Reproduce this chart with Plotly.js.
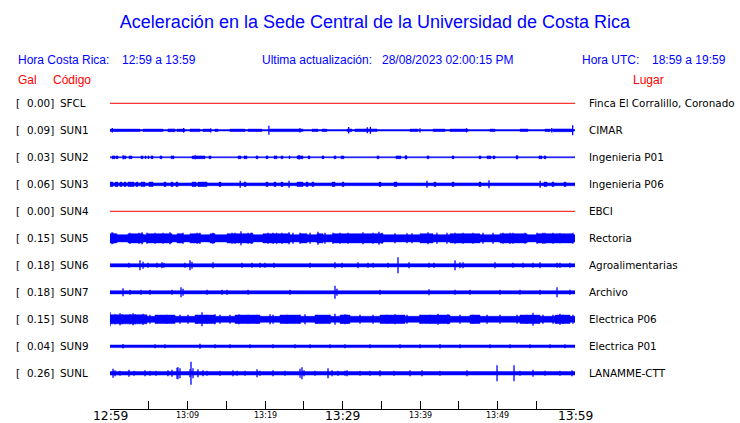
<!DOCTYPE html>
<html><head><meta charset="utf-8">
<script src="https://cdn.plot.ly/plotly-3.0.1.min.js"></script>
<style>html,body{margin:0;padding:0;background:#fff}#chart{width:740px;height:423px}</style>
</head><body><div id="chart"></div>
<script>
// ---- data ----
const codes  = ['SFCL','SUN1','SUN2','SUN3','SUN4','SUN5','SUN6','SUN7','SUN8','SUN9','SUNL'];
const galMax = ['0.00','0.09','0.03','0.06','0.00','0.15','0.18','0.18','0.15','0.04','0.26'];
const places = ['Finca El Corralillo, Coronado','CIMAR','Ingenieria P01','Ingenieria P06','EBCI','Rectoria',
                'Agroalimentarias','Archivo','Electrica P06','Electrica P01','LANAMME-CTT'];
// continuous background noise half-amplitude per station
const baseAmp = [0, 0.7, 0.5, 1.4, 0, 3.6, 1.6, 1.6, 3.0, 1.3, 1.7];
// time axis: minutes after 12:59
const tickMinutes = [0,5,10,15,20,25,30,35,40,45,50,55,60];
const tickText = ['12:59','13:04','13:09','13:14','13:19','13:24','13:29','13:34','13:39','13:44','13:49','13:54','13:59'];

// noisy stretches [start min, end min, half-amplitude]
const burstsSUN1 = [[0,3.87,1.2],[4.26,6.84,1.2],[7.48,8.39,1.4],[8.65,9.68,1.2],[10.32,11.61,1.3],[12.0,12.9,1.2],[13.55,13.94,1.2],
  [15.48,17.42,1.2],[17.81,19.61,1.2],[20.65,24.9,1.3],[26.06,26.84,1.2],[27.35,27.97,1.2],[30.58,31.23,1.3],[31.61,34.45,1.3],
  [38.71,39.74,1.2],[41.68,43.23,1.2],[43.87,46.19,1.2],[49.03,49.68,1.2],[52.9,53.94,1.2],[56.13,56.77,1.2],[57.16,59.74,1.4]];
const burstsSUN2 = [[0.26,0.65,1.4],[0.77,1.03,1.4],[1.68,2.06,1.4],[2.45,2.84,1.4],[4.0,4.26,1.4],[4.52,4.65,1.4],[4.9,5.03,1.4],
  [5.29,5.55,1.4],[6.45,6.71,1.4],[7.87,8.26,1.4],[10.58,12.26,1.4],[12.77,13.03,1.4],[16.52,16.9,1.4],[17.29,17.68,1.4],
  [18.84,19.1,1.4],[20.13,20.39,1.4],[21.16,21.55,1.4],[22.06,22.32,1.4],[23.1,23.23,1.4],[24.13,24.9,1.4],[25.55,25.81,1.4],
  [27.35,27.61,1.4],[28.9,29.16,1.4],[29.81,30.19,1.4],[34.45,34.71,1.4],[36.9,37.55,1.4],[38.06,38.32,1.4],[40.9,41.16,1.4],
  [44.13,44.39,1.4],[47.61,47.87,1.4],[48.65,49.16,1.4],[49.42,49.68,1.4],[52.39,52.65,1.4],[55.35,55.74,1.4],[56.0,56.26,1.4]];
const burstsSUN3 = [[0,0.39,2.2],[0.65,1.03,2.2],[1.29,1.55,2.2],[1.81,2.06,2.2],[2.32,3.1,2.2],[3.35,3.61,2.2],[4.0,4.52,2.2],
  [5.03,5.55,2.2],[6.97,7.23,2.2],[7.87,8.13,2.2],[8.52,8.77,2.2],[10.58,11.1,2.2],[11.35,12.52,2.2],[14.06,14.32,2.2],
  [17.29,17.55,2.2],[20.13,20.39,2.2],[21.16,21.42,2.2],[22.06,22.32,2.2],[24.13,24.9,2.2],[25.29,25.55,2.2],[26.06,26.32,2.2],
  [28.65,29.03,2.2],[29.94,30.19,2.2],[34.71,34.97,2.2],[36.65,37.03,2.2],[41.81,42.06,2.2],[44.13,44.39,2.2],[47.61,47.87,2.2],
  [56.0,56.39,2.2],[57.03,57.29,2.2],[58.58,58.84,2.2]];
const burstsSUN5 = [[0,0.9,4.6],[2.32,4.26,4.6],[4.77,8.0,4.6],[8.65,9.42,4.6],[10.32,11.61,4.6],[12.9,13.55,4.6],[15.1,18.45,4.6],
  [19.74,23.23,4.6],[24.52,25.42,4.6],[26.71,27.48,4.6],[28.77,35.23,4.6],[40.0,41.68,4.6],[43.87,47.74,4.6],[50.32,53.81,4.6],
  [55.1,59.74,4.6]];
const burstsSUN8 = [[0,4.77,4.5],[5.81,8.39,4.2],[10.97,13.55,4.2],[16.13,19.35,4.2],[21.94,24.52,4.2],[26.45,28.39,4.2],
  [29.68,30.97,4.2],[34.84,38.06,4.2],[40.0,43.87,4.2],[46.45,47.74,4.2],[52.9,55.48,4.2],[57.42,59.35,4.2]];

// isolated spikes [minute, half-amplitude]
const spikesSUN1 = [[0.3,2.3],[9.5,2.3],[13.0,2.1],[20.5,4.5],[24.5,2.1],[30.8,3.2],[33.2,3],[33.6,3.5],[40.0,2.1],[46.0,2.1],[57.0,2.3],[59.7,5]];
const spikesSUN2 = [[1.7,2],[11.0,2],[24.4,2.2],[38.2,2],[52.5,2]];
const spikesSUN3 = [[16.8,3.5],[23.1,3.5],[40.9,3.5],[48.9,4],[55.5,3.5]];
const spikesSUN5 = [[0.26,6],[0.39,5.5],[2.58,5.5],[3.74,5.5],[4.13,6],[4.77,5.5],[5.81,5.5],[6.84,5.5],[7.74,6],[9.42,5.5],
  [11.23,5.5],[11.61,5.5],[13.29,5.5],[15.74,5.5],[16.13,5.5],[16.9,7],[17.81,5.5],[18.2,5.5],[18.32,5.5],[20.39,5.5],[21.03,5.5],
  [21.5,5.5],[22.19,5.5],[23.1,6],[23.61,5.5],[24.52,5.5],[25.81,5.5],[26.84,6.5],[27.74,5.5],[28.77,5.5],[29.68,5.5],[30.71,5.5],
  [32.65,6],[33.94,5.5],[34.71,6.5],[35.1,5.5],[36.77,5],[38.32,5],[38.97,5],[41.03,6],[42.19,5.5],[43.48,5.5],[44.52,5.5],
  [45.55,5.5],[46.84,5.5],[48.13,5.5],[49.42,5.5],[50.71,5.5],[51.61,5.5],[52.0,5.5],[53.55,5.5],[55.1,5.5],[55.87,5.5],
  [56.13,5.5],[57.16,5.5],[58.06,5],[59.74,5.5]];
const spikesSUN6 = [[2.45,2.5],[3.87,5],[4.26,3.5],[4.9,2.5],[6.06,2.5],[6.71,3],[6.97,2.5],[9.68,2.5],[10.32,5],[10.58,3.5],
  [13.29,3],[17.03,2.5],[18.32,2.5],[19.35,2.5],[20.0,2.5],[21.16,2.5],[25.81,2.5],[29.03,3],[29.94,2.5],[32.0,3],[33.29,2.5],
  [33.94,2.5],[35.87,2.5],[37.16,8],[38.58,3],[41.16,2.5],[41.81,2.5],[44.52,5],[45.16,3],[45.55,3],[49.68,3],[52.0,2.5],
  [53.29,2.5],[54.58,2.5],[55.48,3],[57.68,2.5],[58.06,2.5],[59.35,2.5]];
const spikesSUN7 = [[1.68,4],[2.58,2.5],[4.0,2.5],[5.16,2.5],[8.0,2.5],[9.16,5],[9.42,3.5],[12.52,2.5],[14.45,2.5],[15.1,2.5],
  [17.81,2.5],[23.23,2.5],[29.03,6.5],[29.29,3.5],[34.84,2.5],[41.16,3],[44.52,2.5],[46.45,2.5],[50.32,2.5],[52.9,2.5],
  [55.48,2.5],[57.68,5],[59.35,2.5]];
const spikesSUN8 = [[0,7],[0.65,5],[1.29,6],[1.55,5],[2.58,5],[2.97,6],[3.23,5],[4.26,5.5],[5.16,4.5],[7.35,4.5],[9.03,4.5],
  [10.06,4.5],[11.23,4.5],[11.87,7],[12.52,4.5],[13.55,5],[14.19,4.5],[15.48,4.5],[16.65,5],[17.81,4.5],[18.97,4.5],[20.65,5],
  [21.03,4.5],[22.84,4.5],[24.52,4.5],[25.16,5],[26.71,4.5],[28.39,4.5],[29.03,5.5],[29.94,4.5],[30.32,5],[30.58,4.5],
  [32.26,4.5],[33.94,4.5],[35.74,4.5],[36.77,5],[38.32,4.5],[40.0,4.5],[41.29,4.5],[42.32,5.5],[43.61,5],[45.16,4.5],
  [46.84,4.5],[48.65,4.5],[50.32,4.5],[52.52,4.5],[53.81,4.5],[54.58,6.5],[55.87,4.5],[57.16,4.5],[58.06,5.5],[58.45,4.5],[59.74,4.5]];
const spikesSUN9 = [[1.68,2.3],[5.81,2],[7.1,2],[11.61,2.5],[13.55,2],[15.48,2],[18.06,2],[21.03,2],[23.87,2],[25.81,2],[28.39,2],
  [30.32,2],[33.55,2],[37.42,2],[40.0,2],[42.58,2.3],[45.16,2],[49.03,2],[51.61,2],[54.19,2],[56.77,2],[58.71,2]];
const spikesSUNL = [[0.39,4.5],[0.65,3],[1.29,2.5],[2.45,3.5],[3.1,2.5],[4.52,3],[5.16,2.5],[5.94,2.5],[7.48,3],[8.0,3.5],
  [8.65,5.5],[8.77,6],[9.03,5],[10.32,4],[10.45,11.5],[10.71,5],[11.35,4],[12.0,3],[12.52,2.5],[14.19,2.5],[15.87,3],[16.39,2.5],
  [17.42,2.5],[18.97,4],[19.35,2.5],[21.03,3],[22.58,2.5],[24.52,4.5],[24.77,6],[25.03,3],[26.45,2.5],[28.13,5],[28.65,3],
  [29.42,2.5],[30.32,2.5],[30.58,3],[32.26,2.5],[33.55,2.5],[34.84,3],[36.65,2.5],[38.71,3],[40.26,3],[42.58,2.5],[46.06,3],
  [49.94,8],[52.13,8],[52.9,2.5],[54.58,3.5],[56.13,2.5],[58.06,2.5],[59.61,3]];

const burstsBy = {SUN1:burstsSUN1, SUN2:burstsSUN2, SUN3:burstsSUN3, SUN5:burstsSUN5, SUN8:burstsSUN8};
const spikesBy = {SUN1:spikesSUN1, SUN2:spikesSUN2, SUN3:spikesSUN3, SUN5:spikesSUN5, SUN6:spikesSUN6, SUN7:spikesSUN7,
                  SUN8:spikesSUN8, SUN9:spikesSUN9, SUNL:spikesSUNL};

// ---- drawing ----
const BLUE = '#0000ff', RED = '#ff0000';
const ROW0 = 103.3, ROWSTEP = 27;   // layout (pixel rows on the y axis)
const T0 = tickMinutes[0], T1 = tickMinutes[tickMinutes.length-1];
const traces = [];
codes.forEach((code, i) => {
  const c = ROW0 + ROWSTEP * i;
  const b = baseAmp[i];
  if (b === 0) {
    traces.push({x:[T0,T1], y:[c,c], mode:'lines', line:{color:RED, width:1}, hoverinfo:'skip'});
    return;
  }
  traces.push({x:[T0,T1,T1,T0,T0], y:[c-b,c-b,c+b,c+b,c-b], mode:'lines', fill:'toself', fillcolor:BLUE,
               line:{color:BLUE, width:0.5}, hoverinfo:'skip'});
  const bx = [], by = [];
  (burstsBy[code] || []).forEach(([s,e,a]) => {
    bx.push(s,e,e,s,s,null); by.push(c-a,c-a,c+a,c+a,c-a,null);
  });
  if (bx.length) traces.push({x:bx, y:by, mode:'lines', fill:'toself', fillcolor:BLUE,
                              line:{color:BLUE, width:0.5}, hoverinfo:'skip'});
  const sx = [], sy = [];
  (spikesBy[code] || []).forEach(([t,a]) => { sx.push(t,t,null); sy.push(c-a,c+a,null); });
  if (sx.length) traces.push({x:sx, y:sy, mode:'lines', line:{color:BLUE, width:1.3}, hoverinfo:'skip'});
});

const W = 740, H = 423;
const px = v => v / W, py = v => 1 - v / H;
const ann = [];
const hdr = {family:'Liberation Sans, Arial, sans-serif', size:12, color:BLUE};
const hdrR = {family:'Liberation Sans, Arial, sans-serif', size:12, color:RED};
const lab = {family:'DejaVu Sans, sans-serif', size:10.4, color:'#000'};
function A(text, x, y, font, xanchor) {
  ann.push({text, x:px(x), y:py(y), xref:'paper', yref:'paper', xanchor:xanchor||'left', yanchor:'middle',
            showarrow:false, font, align:'left'});
}
A('Hora Costa Rica:', 16, 60, hdr);
A('12:59 a 13:59', 120, 60, hdr);
A('Ultima actualización:', 260, 60, hdr);
A('28/08/2023 02:00:15 PM', 380, 60, hdr);
A('Hora UTC:', 580, 60, hdr);
A('18:59 a 19:59', 650, 60, hdr);
A('Gal', 16, 80, hdrR);
A('Código', 51, 80, hdrR);
A('Lugar', 631, 80, hdrR);
codes.forEach((code, i) => {
  const c = ROW0 + ROWSTEP * i;
  A('[', 14, c, lab);
  A(galMax[i] + ']', 56, c, lab, 'right');
  A(code, 58, c, lab);
  A(places[i], 587, c, lab);
});
// time labels under the axis (major every 30 min, minor every 10 min)
tickMinutes.forEach((m, k) => {
  if (k % 2 !== 0) return;
  const major = k % 6 === 0;
  ann.push({text:tickText[k], x:m, xref:'x', y:py(major ? 416 : 415), yref:'paper', xanchor:'center', yanchor:'middle',
            showarrow:false, font:{family:'DejaVu Sans, sans-serif', size:major ? 12.3 : 8, color:'#000'}});
});

const layout = {
  width:W, height:H, margin:{l:0,r:0,t:0,b:0}, paper_bgcolor:'#fff', plot_bgcolor:'#fff', showlegend:false,
  title:{text:'Aceleración en la Sede Central de la Universidad de Costa Rica', x:375/W, xanchor:'center',
         y:py(22), yanchor:'middle', font:{family:'Liberation Sans, Arial, sans-serif', size:18, color:BLUE}},
  xaxis:{domain:[110/W, 575/W], range:[T0,T1], showgrid:false, zeroline:false, showline:true, linecolor:'#000', linewidth:1,
         ticks:'inside', ticklen:8, tickwidth:1, tickcolor:'#000', tickmode:'array', tickvals:tickMinutes,
         showticklabels:false, fixedrange:true},
  yaxis:{domain:[14/H, 1], range:[409, 0], visible:false, fixedrange:true},
  annotations:ann
};
Plotly.newPlot('chart', traces, layout, {staticPlot:true, displayModeBar:false});
</script></body></html>
